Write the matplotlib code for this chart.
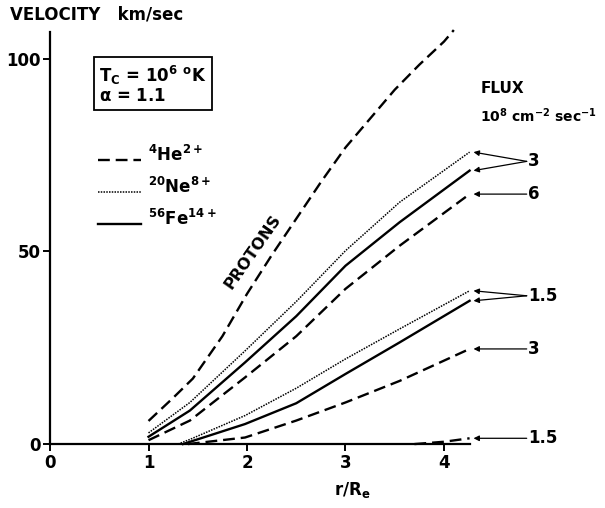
import numpy as np
import matplotlib
matplotlib.use("Agg")
import matplotlib.pyplot as plt
from matplotlib.lines import Line2D

plt.rcParams['font.family'] = ['DejaVu Sans']
plt.rcParams['font.weight'] = 'bold'
plt.rcParams['mathtext.default'] = 'regular'

# velocity curves, r/Re vs km/sec
r_protons = [1.0, 1.25, 1.45, 1.75, 2.0, 2.25, 2.5, 2.75, 3.0, 3.25, 3.5, 3.75, 4.0, 4.1]
v_protons = [6, 12, 17, 28, 39, 49, 58.5, 68, 77, 84.5, 92, 98.5, 104.5, 107.5]

r_ne3 = [1.0, 1.42, 1.98, 2.5, 3.0, 3.55, 4.26]
v_ne3 = [2.9, 10.8, 24.2, 37.0, 50.2, 62.8, 75.8]
r_fe3 = [1.0, 1.42, 1.98, 2.5, 3.0, 3.55, 4.26]
v_fe3 = [1.9, 8.7, 21.2, 33.2, 46.3, 57.6, 71.0]
r_he6 = [1.0, 1.42, 1.98, 2.5, 3.0, 3.55, 4.26]
v_he6 = [1.0, 6.1, 17.3, 28.0, 40.3, 51.5, 64.9]

r_ne15 = [1.3, 1.42, 1.98, 2.5, 3.0, 3.55, 4.26]
v_ne15 = [0, 1.2, 7.4, 14.5, 22.1, 29.9, 39.8]
r_fe15 = [1.35, 1.98, 2.5, 3.0, 3.55, 4.26]
v_fe15 = [0, 5.2, 10.6, 18.2, 26.4, 37.2]
r_he3 = [1.4, 1.98, 2.5, 3.0, 3.55, 4.26]
v_he3 = [0, 1.7, 6.1, 10.8, 16.4, 24.7]
r_he15 = [3.7, 4.0, 4.26]
v_he15 = [0, 0.6, 1.5]

x_ticks = [0, 1, 2, 3, 4]
y_ticks = [0, 50, 100]

ion_names = [r'$^{4}$He$^{2+}$', r'$^{20}$Ne$^{8+}$', r'$^{56}$Fe$^{14+}$']

he_style = dict(color='black', lw=1.7, ls=(0, (5, 2.5)))
ne_style = dict(color='black', lw=1.1, ls=(0, (1, 0.8)))
fe_style = dict(color='black', lw=1.7, ls='-')
styles = [he_style, ne_style, fe_style]

fig = plt.figure(figsize=(6.05, 5.08), dpi=100)
ax = fig.add_axes([0, 0, 1, 1])
ax.set_xlim(-0.508, 5.635)
ax.set_ylim(-16.6, 115.3)

ax.plot(r_protons, v_protons, **he_style)
ax.plot(r_ne3, v_ne3, **ne_style)
ax.plot(r_fe3, v_fe3, **fe_style)
ax.plot(r_he6, v_he6, **he_style)
ax.plot(r_ne15, v_ne15, **ne_style)
ax.plot(r_fe15, v_fe15, **fe_style)
ax.plot(r_he3, v_he3, **he_style)
ax.plot(r_he15, v_he15, **he_style)

ax.text(2.06, 50, 'PROTONS', rotation=55, ha='center', va='center', fontsize=11.5)

# flux labels with arrows to the curve ends
flux = [('3', [(r_ne3, v_ne3), (r_fe3, v_fe3)]),
        ('6', [(r_he6, v_he6)]),
        ('1.5', [(r_ne15, v_ne15), (r_fe15, v_fe15)]),
        ('3', [(r_he3, v_he3)]),
        ('1.5', [(r_he15, v_he15)])]
for lab, curves in flux:
    ends = [c[1][-1] for c in curves]
    ym = np.mean(ends)
    ax.text(4.85, ym, lab, ha='left', va='center', fontsize=12)
    for c in curves:
        ax.annotate('', xy=(c[0][-1] + 0.04, c[1][-1]), xytext=(4.84, ym),
                    arrowprops=dict(arrowstyle='-|>', color='black', lw=0.9,
                                    mutation_scale=8, shrinkA=0, shrinkB=0))

ax.text(4.37, 92.3, 'FLUX', fontsize=11, ha='left', va='center')
ax.text(4.37, 85.3, r'10$^{8}$ cm$^{-2}$ sec$^{-1}$', fontsize=10, ha='left', va='center')

# legend drawn by hand
for i, (name, st) in enumerate(zip(ion_names, styles)):
    yy = 73.8 - 8.3 * i
    ax.add_line(Line2D([0.49, 0.92], [yy, yy], **st))
    ax.text(0.99, yy + 1.2, name, fontsize=12, ha='left', va='center')

ax.text(0.5, 93.5, 'T$_{C}$ = 10$^{6}$ $^{o}$K\n' + r'$\alpha$ = 1.1', fontsize=12,
        ha='left', va='center', linespacing=1.0,
        bbox=dict(boxstyle='square,pad=0.3', fc='white', ec='black', lw=1.3))

ax.text(-0.41, 111.5, 'VELOCITY   km/sec', fontsize=12, ha='left', va='center')
ax.text(3.07, -12, r'r/R$_{e}$', fontsize=12, ha='center', va='center')

for s in ['top', 'right']:
    ax.spines[s].set_visible(False)
ax.spines['left'].set_position(('data', 0))
ax.spines['bottom'].set_position(('data', 0))
ax.spines['left'].set_bounds(0, 107)
ax.spines['bottom'].set_bounds(0, 4.26)
ax.spines['left'].set_linewidth(1.6)
ax.spines['bottom'].set_linewidth(1.6)
ax.set_xticks(x_ticks)
ax.set_yticks(y_ticks)
ax.tick_params(direction='out', length=5, width=1.4, labelsize=12, pad=2)

fig.savefig('out.png', dpi=100)
